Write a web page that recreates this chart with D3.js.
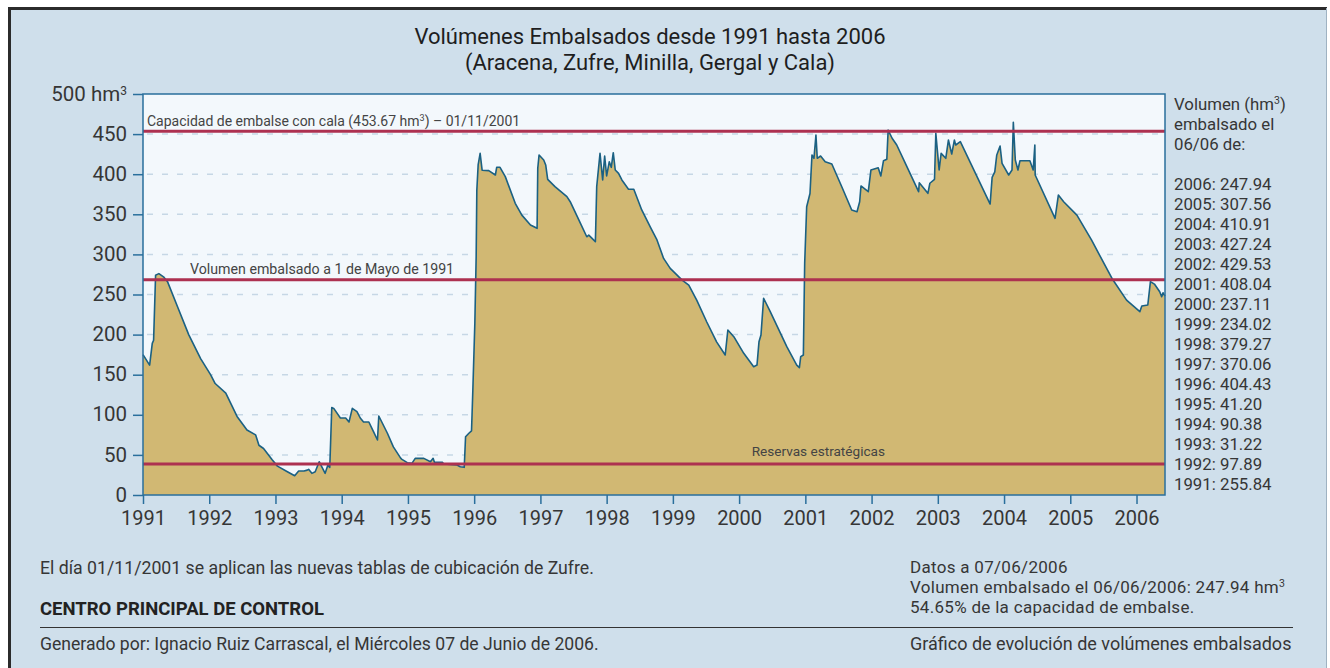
<!DOCTYPE html>
<html><head><meta charset="utf-8">
<script src="https://cdn.jsdelivr.net/npm/d3@7"></script>
<style>
body{margin:0;background:#fff}
svg{display:block;font-family:Roboto,sans-serif}
</style>
</head><body>
<svg id="chart" width="1330" height="668"></svg>
<script>
// ---- data ----
const decimalYears = [
 1991.00,1991.10,1991.14,1991.16,1991.19,1991.24,1991.31,1991.37,1991.52,1991.69,1991.87,
 1992.02,1992.09,1992.25,1992.42,1992.57,1992.70,1992.75,1992.82,1992.95,
 1993.03,1993.18,1993.29,1993.35,1993.43,1993.48,1993.50,1993.55,1993.60,1993.66,1993.70,1993.75,1993.79,1993.82,1993.85,1993.88,1993.98,
 1994.06,1994.11,1994.16,1994.23,1994.28,1994.33,1994.41,1994.48,1994.54,1994.56,1994.69,1994.78,1994.89,1994.91,1994.99,
 1995.06,1995.11,1995.24,1995.34,1995.38,1995.40,1995.52,1995.54,1995.74,1995.79,1995.85,1995.87,1995.92,1995.96,1995.98,
 1996.01,1996.03,1996.04,1996.06,1996.09,1996.12,1996.22,1996.32,1996.34,1996.39,1996.47,1996.62,1996.72,1996.85,1996.95,1996.96,1996.98,
 1997.05,1997.08,1997.11,1997.22,1997.40,1997.45,1997.58,1997.70,1997.73,1997.78,1997.83,1997.85,1997.88,1997.90,1997.94,1997.97,
 1998.00,1998.04,1998.07,1998.10,1998.13,1998.18,1998.23,1998.33,1998.41,1998.53,1998.66,1998.76,1998.86,1998.96,
 1999.14,1999.24,1999.36,1999.51,1999.66,1999.79,1999.83,1999.92,
 2000.07,2000.22,2000.27,2000.30,2000.33,2000.37,2000.47,2000.72,2000.87,2000.91,2000.93,2000.97,2000.99,
 2001.02,2001.07,2001.10,2001.13,2001.16,2001.18,2001.23,2001.30,2001.40,2001.55,2001.70,2001.78,2001.82,2001.84,2001.95,2001.99,
 2002.10,2002.14,2002.18,2002.23,2002.25,2002.31,2002.38,2002.51,2002.71,2002.72,2002.85,2002.88,2002.95,2002.97,
 2003.02,2003.05,2003.12,2003.16,2003.21,2003.25,2003.27,2003.34,2003.79,2003.82,2003.86,2003.89,2003.94,2003.97,
 2004.07,2004.12,2004.14,2004.17,2004.21,2004.24,2004.39,2004.44,2004.465,2004.47,2004.77,2004.82,2004.90,
 2005.10,2005.32,2005.63,2005.85,
 2006.05,2006.08,2006.17,2006.21,2006.27,2006.35,2006.38,2006.40,2006.43
];
const volumes = [
 175,162,189,193,274,276,272,266,235,200,170,
 150,139,127,98,81,75,62,58,44,
 36,29,24,30,30,31,32,27,29,41.5,35,27,37,34.5,109,108,96,
 96,91,108,104,96,91,91,79,68.6,98.5,77,60,46,44.5,40.3,
 39.5,45.7,45.7,41.5,45.7,40.7,40.7,38.6,37.4,35.3,34.5,72.7,77,80,131,
 214,297,380,411.5,426,405,404.4,399,408.6,408.6,397,363.7,349,336.7,332.5,407.4,424,
 417.7,411.5,393.6,384.5,372,365.7,343,322,324,320,315.8,384.5,409.4,426,392.8,422.7,
 397.8,415.6,408.6,426.8,405.2,401,392.8,381.2,381.2,355.4,334,318,295,282.6,
 268,261.8,243,216,191,174.6,205.7,197.4,
 176.7,160,162,191,199.5,245.3,228.6,185,162,158.8,172.5,174.6,289,
 359.5,376,424,419.8,448.9,419.8,422.7,415.6,412.7,384.4,355.4,353.2,365.7,385.3,378.2,405.2,
 408.1,397.8,416.8,418.6,455,444.8,436.4,413.6,378.2,389.4,376.2,388.7,393.6,451,
 405.2,426,419.8,442.6,425.2,442.6,436.4,440.5,362.8,396.1,403,424,435.2,413.6,
 399,405.2,464.7,417.7,405.2,416.8,416.8,405.2,436.4,399,345,374,365.7,
 349,318,270,243,
 228.6,235.7,236.9,266,263,253.5,247.3,252.2,247.94
];
const yTickValues = [0,50,100,150,200,250,300,350,400,450,500];
const xTickYears = [1991,1992,1993,1994,1995,1996,1997,1998,1999,2000,2001,2002,2003,2004,2005,2006];
const refValues = [453.67, 268.5, 38.6];
const legendYears = [2006,2005,2004,2003,2002,2001,2000,1999,1998,1997,1996,1995,1994,1993,1992,1991];
const legendValues = ["247.94","307.56","410.91","427.24","429.53","408.04","237.11","234.02","379.27","370.06","404.43","41.20","90.38","31.22","97.89","255.84"];
const xDomainEnd = 2006.43;

// ---- drawing ----
const FONT = "Roboto, sans-serif";
const svg = d3.select("#chart");
const L = 143, R = 1165, T = 94, B = 495;
const x = d3.scaleLinear().domain([1991, xDomainEnd]).range([L, R]);
const y = d3.scaleLinear().domain([0, 500]).range([B, T]);

const BG = "#cfdfeb", PLOTBG = "#f3f8fc", FILL = "#d1b873", LINE = "#1b6183",
      AXIS = "#2a6f9c", RED = "#ad3150", TXT = "#363636";

// frame / background
svg.append("rect").attr("x",9).attr("y",9).attr("width",1317).attr("height",680)
  .attr("fill",BG);
svg.append("line").attr("x1",9.5).attr("x2",9.5).attr("y1",8).attr("y2",668).attr("stroke","#2b2b2b").attr("stroke-width",3);
svg.append("line").attr("x1",8).attr("x2",1327).attr("y1",8.5).attr("y2",8.5).attr("stroke","#2b2b2b").attr("stroke-width",3);
svg.append("line").attr("x1",1326.5).attr("x2",1326.5).attr("y1",8).attr("y2",668).attr("stroke","#9fb2c2").attr("stroke-width",1);

// title
const title = svg.append("text").attr("x",650).attr("text-anchor","middle").attr("fill","#1e1e1e").attr("font-size",22);
title.append("tspan").attr("x",650).attr("y",44).text("Volúmenes Embalsados desde 1991 hasta 2006");
title.append("tspan").attr("x",650).attr("y",70).text("(Aracena, Zufre, Minilla, Gergal y Cala)");

// plot background
svg.append("rect").attr("x",L).attr("y",T).attr("width",R-L).attr("height",B-T).attr("fill",PLOTBG);

// grid
svg.append("g").selectAll("line").data(yTickValues.filter(d=>d>0 && d<500)).join("line")
  .attr("x1",L+4).attr("x2",R).attr("y1",d=>y(d)).attr("y2",d=>y(d))
  .attr("stroke","#c6d7e5").attr("stroke-width",1.5).attr("stroke-dasharray","6,9");

// area
const area = d3.area().x((d,i)=>x(decimalYears[i])).y0(y(0)).y1(d=>y(d)).curve(d3.curveLinear);
const line = d3.line().x((d,i)=>x(decimalYears[i])).y(d=>y(d)).curve(d3.curveLinear);
svg.append("path").datum(volumes).attr("d",area).attr("fill",FILL);
svg.append("path").datum(volumes).attr("d",line).attr("fill","none").attr("stroke",LINE).attr("stroke-width",1.6).attr("stroke-linejoin","round");

// reference lines
svg.append("g").selectAll("line").data(refValues).join("line")
  .attr("x1",L).attr("x2",R).attr("y1",d=>y(d)).attr("y2",d=>y(d))
  .attr("stroke",RED).attr("stroke-width",3);

// reference labels
const lab1 = svg.append("text").attr("x",147).attr("y",y(refValues[0])-5).attr("font-size",14).attr("fill","#444");
lab1.append("tspan").text("Capacidad de embalse con cala (453.67 hm");
lab1.append("tspan").attr("dy",-5).attr("font-size",9).text("3");
lab1.append("tspan").attr("dy",5).text(") – 01/11/2001");
svg.append("text").attr("x",190).attr("y",y(refValues[1])-6).attr("font-size",14.2).attr("fill","#444")
  .text("Volumen embalsado a 1 de Mayo de 1991");
svg.append("text").attr("x",885).attr("y",y(refValues[2])-8).attr("font-size",13.6).attr("fill","#444")
  .attr("text-anchor","end").text("Reservas estratégicas");

// plot border
svg.append("rect").attr("x",L).attr("y",T).attr("width",R-L).attr("height",B-T)
  .attr("fill","none").attr("stroke",AXIS).attr("stroke-width",1.5);

// axes
const yAxis = svg.append("g").attr("transform",`translate(${L},0)`)
  .call(d3.axisLeft(y).tickValues(yTickValues).tickSize(10).tickPadding(6)
    .tickFormat(d=> d===500 ? "500 hm" : d));
yAxis.select(".domain").remove();
yAxis.selectAll(".tick line").attr("stroke",AXIS).attr("stroke-width",1.5);
yAxis.selectAll(".tick text").attr("fill",TXT).attr("font-size",20.5).attr("font-family",FONT).attr("dy","0.3em");
yAxis.selectAll(".tick").filter(d=>d===500).select("text")
  .append("tspan").attr("dy","-0.45em").attr("font-size",12).text("3");

const xAxis = svg.append("g").attr("transform",`translate(0,${B})`)
  .call(d3.axisBottom(x).tickValues(xTickYears).tickSize(9).tickPadding(6.5).tickFormat(d3.format("d")));
xAxis.select(".domain").remove();
xAxis.selectAll(".tick line").attr("stroke",AXIS).attr("stroke-width",1.5);
xAxis.selectAll(".tick text").attr("fill",TXT).attr("font-size",20).attr("font-family",FONT);

// right legend: one multi-line text block
const legendText = svg.append("text").attr("font-size",16.8).attr("fill",TXT);
legendText.append("tspan").text("Volumen (hm").attr("x",1174).attr("y",110);
legendText.append("tspan").attr("dy",-6).attr("font-size",10.5).text("3");
legendText.append("tspan").attr("dy",6).text(")");
legendText.append("tspan").attr("x",1174).attr("y",130).text("embalsado el");
legendText.append("tspan").attr("x",1174).attr("y",150).text("06/06 de:");
legendText.selectAll("tspan.item").data(legendYears).join("tspan").attr("class","item")
  .attr("x",1174).attr("y",(d,i)=>190+i*20)
  .text((d,i)=>`${d}: ${legendValues[i]}`);

// footer
const ft = svg.append("g").attr("font-size",17).attr("fill",TXT);
ft.append("text").attr("x",40).attr("y",574).attr("font-size",17.7).text("El día 01/11/2001 se aplican las nuevas tablas de cubicación de Zufre.");
ft.append("text").attr("x",40).attr("y",615).attr("font-size",18.5).attr("font-weight","bold").attr("fill","#222").text("CENTRO PRINCIPAL DE CONTROL");
ft.append("line").attr("x1",40).attr("x2",1293).attr("y1",627.5).attr("y2",627.5).attr("stroke","#333").attr("stroke-width",1);
ft.append("text").attr("x",40).attr("y",650).attr("font-size",17.6).text("Generado por: Ignacio Ruiz Carrascal, el Miércoles 07 de Junio de 2006.");
const info = ft.append("text").attr("letter-spacing",0.3);
info.append("tspan").attr("x",910).attr("y",573).text("Datos a 07/06/2006");
info.append("tspan").attr("x",910).attr("y",593).text("Volumen embalsado el 06/06/2006: 247.94 hm");
info.append("tspan").attr("dy",-6).attr("font-size",10.5).text("3");
info.append("tspan").attr("x",910).attr("y",613).text("54.65% de la capacidad de embalse.");
ft.append("text").attr("x",910).attr("y",650).attr("font-size",18).text("Gráfico de evolución de volúmenes embalsados");
</script>
</body></html>
